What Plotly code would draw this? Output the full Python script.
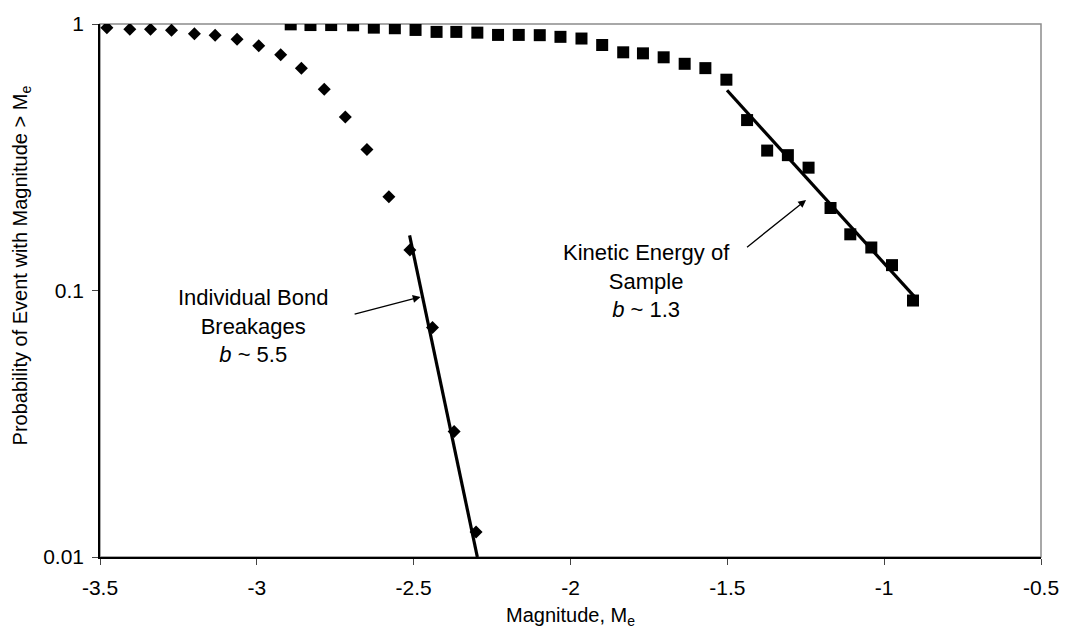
import plotly.graph_objects as go

# Individual bond breakages (diamonds)
bond_x = [-3.478, -3.405, -3.339, -3.272, -3.199, -3.133, -3.063, -2.994, -2.924,
          -2.858, -2.785, -2.718, -2.649, -2.579, -2.512, -2.440, -2.371, -2.301]
bond_p = [0.969, 0.956, 0.955, 0.948, 0.920, 0.908, 0.877, 0.829, 0.767,
          0.682, 0.569, 0.448, 0.338, 0.225, 0.142, 0.0726, 0.0296, 0.0124]

# Kinetic energy of sample (squares)
ke_x = [-2.892, -2.829, -2.763, -2.693, -2.627, -2.560, -2.494, -2.427, -2.364,
        -2.297, -2.231, -2.165, -2.098, -2.032, -1.965, -1.899, -1.832, -1.769,
        -1.703, -1.636, -1.570, -1.503, -1.437, -1.373, -1.307, -1.241, -1.171,
        -1.108, -1.041, -0.975, -0.908]
ke_p = [0.997, 0.991, 0.991, 0.989, 0.969, 0.964, 0.950, 0.934, 0.934,
        0.928, 0.910, 0.910, 0.908, 0.895, 0.882, 0.834, 0.783, 0.776,
        0.750, 0.709, 0.683, 0.618, 0.436, 0.335, 0.322, 0.289, 0.204,
        0.1625, 0.145, 0.1245, 0.0917]

# Fitted lines (endpoints)
bond_fit_x = [-2.513, -2.297]
bond_fit_p = [0.161, 0.0100]
ke_fit_x = [-1.501, -0.905]
ke_fit_p = [0.564, 0.0952]

x_ticks = [-3.5, -3, -2.5, -2, -1.5, -1, -0.5]
y_ticks = [0.01, 0.1, 1]
y_ticktext = ["0.01", "0.1", "1"]

FONT = "Liberation Sans, Arial, sans-serif"

fig = go.Figure()
fig.add_trace(go.Scatter(x=bond_x, y=bond_p, mode="markers",
                         marker=dict(symbol="diamond", size=10, color="black"),
                         showlegend=False))
fig.add_trace(go.Scatter(x=ke_x, y=ke_p, mode="markers",
                         marker=dict(symbol="square", size=12, color="black"),
                         showlegend=False))
fig.add_trace(go.Scatter(x=bond_fit_x, y=bond_fit_p, mode="lines",
                         line=dict(color="black", width=3.2), showlegend=False))
fig.add_trace(go.Scatter(x=ke_fit_x, y=ke_fit_p, mode="lines",
                         line=dict(color="black", width=3.2), showlegend=False))

# plot-area border (gray)
fig.add_shape(type="rect", xref="paper", yref="paper", x0=0, y0=0, x1=1, y1=1,
              line=dict(color="#8c8c8c", width=1.5), layer="below")

# arrows
fig.add_annotation(x=-2.478, y=-1.024, ax=-2.693, ay=-1.090, axref="x", ayref="y",
                   xref="x", yref="y", text="", showarrow=True, arrowhead=2,
                   arrowsize=1.2, arrowwidth=1.3, arrowcolor="black")
fig.add_annotation(x=-1.249, y=-0.660, ax=-1.442, ay=-0.842, axref="x", ayref="y",
                   xref="x", yref="y", text="", showarrow=True, arrowhead=2,
                   arrowsize=1.2, arrowwidth=1.3, arrowcolor="black")

fig.add_annotation(x=-3.011, y=-1.135, xref="x", yref="y",
                   text="Individual Bond<br>Breakages<br><i>b</i> ~ 5.5",
                   showarrow=False, font=dict(family=FONT, size=22, color="black"))
fig.add_annotation(x=-1.757, y=-0.965, xref="x", yref="y",
                   text="Kinetic Energy of<br>Sample<br><i>b</i> ~ 1.3",
                   showarrow=False, font=dict(family=FONT, size=22, color="black"))

# y-axis title (placed as rotated text, as in the reference)
fig.add_annotation(x=-0.084, y=0.547, xref="paper", yref="paper",
                   text="Probability of Event with Magnitude > M<sub>e</sub>",
                   textangle=-90, showarrow=False, xanchor="center", yanchor="middle",
                   font=dict(family=FONT, size=20, color="black"))

fig.update_layout(
    width=1071, height=637,
    margin=dict(l=100, r=21, t=18, b=80),
    paper_bgcolor="white", plot_bgcolor="white",
    font=dict(family=FONT, size=21, color="black"),
    xaxis=dict(range=[-3.5, -0.5], tickvals=x_ticks, ticktext=[str(v) for v in x_ticks],
               showgrid=False, zeroline=False, showline=True, linecolor="black",
               linewidth=1.5, ticks="outside", ticklen=6, tickcolor="#444",
               ticklabelstandoff=5, tickfont=dict(size=21),
               title=dict(text="Magnitude, M<sub>e</sub>", font=dict(size=20), standoff=10)),
    yaxis=dict(type="log", range=[-2, 0], tickvals=y_ticks, ticktext=y_ticktext,
               showgrid=False, zeroline=False, showline=True, linecolor="black",
               linewidth=1.5, ticks="outside", ticklen=6, tickcolor="#444",
               ticklabelstandoff=4, tickfont=dict(size=21)),
)

fig.write_html("out.html")
